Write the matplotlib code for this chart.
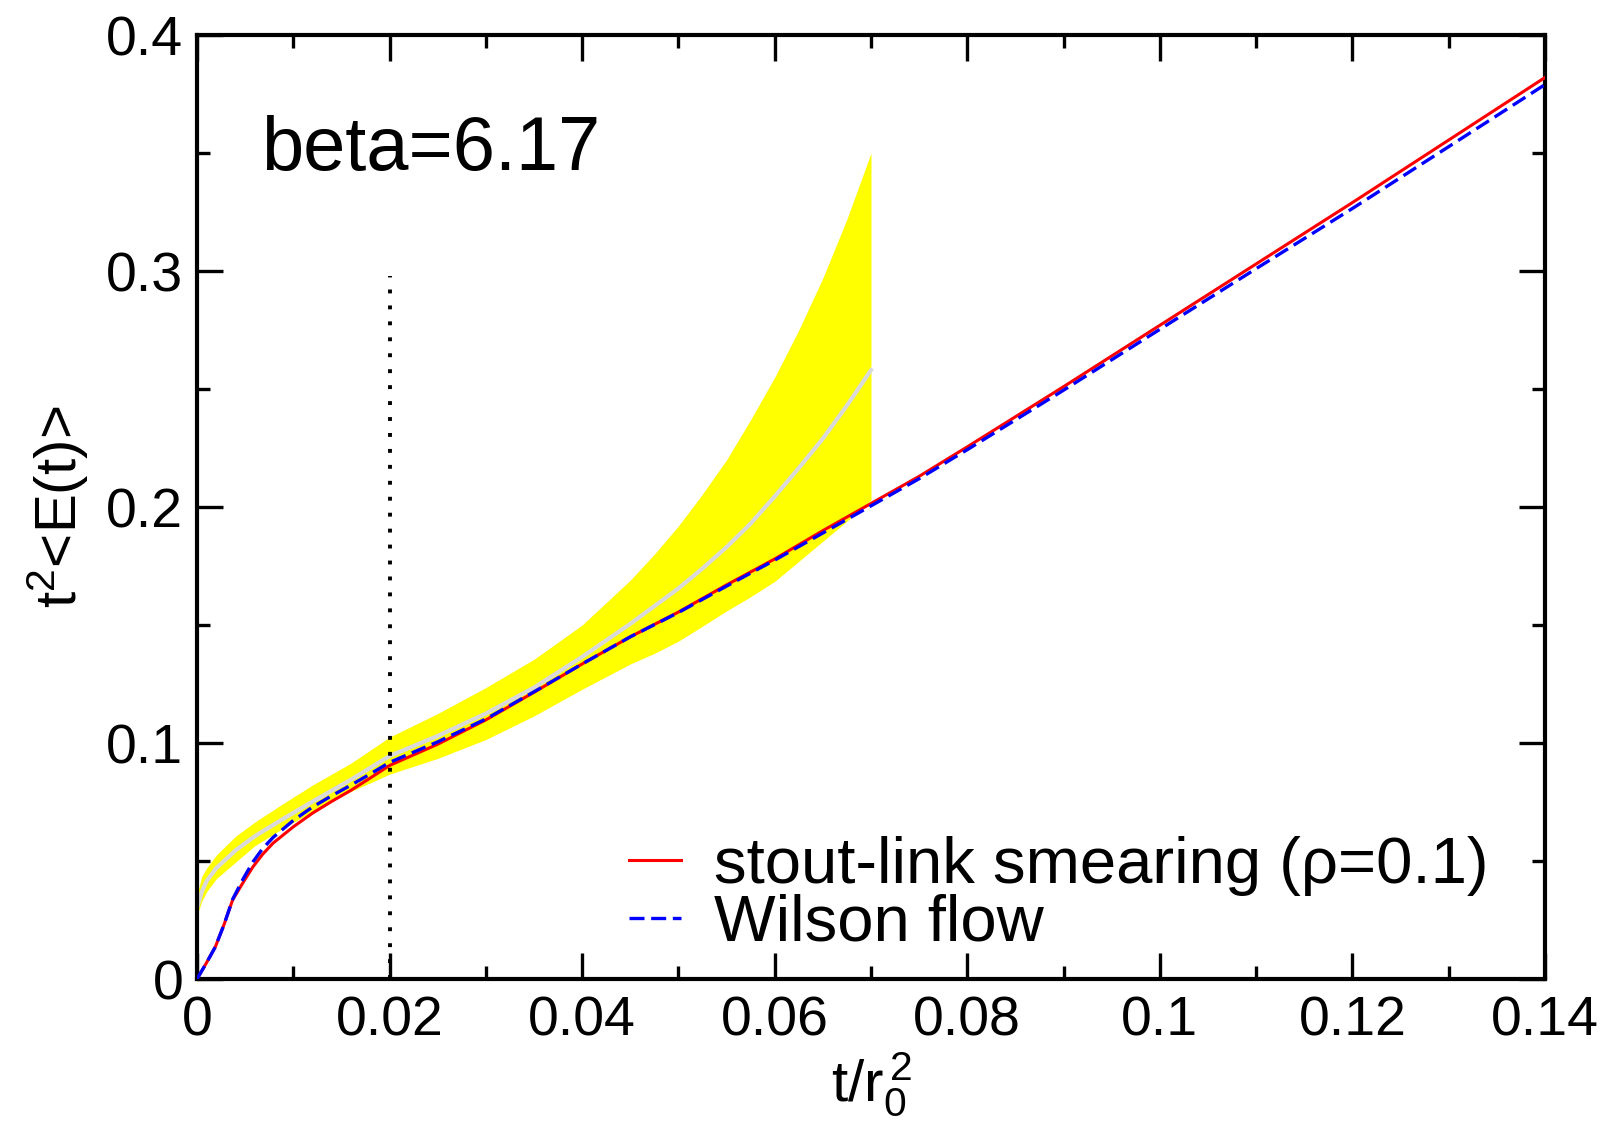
import matplotlib
matplotlib.use('Agg')
import matplotlib.pyplot as plt
from matplotlib.ticker import MultipleLocator, FuncFormatter

plt.rcParams['font.family'] = ['Liberation Sans', 'DejaVu Sans']
plt.rcParams['mathtext.fontset'] = 'custom'
plt.rcParams['mathtext.rm'] = 'Liberation Sans'
plt.rcParams['mathtext.it'] = 'Liberation Sans:italic'

# yellow error band + grey central line (t/r0^2 up to 0.07)
band_x = [0, 0.0005, 0.001, 0.002, 0.004, 0.006, 0.009, 0.012, 0.016, 0.02,
          0.025, 0.03, 0.035, 0.04, 0.045, 0.0475, 0.05, 0.0525, 0.055, 0.0575,
          0.06, 0.0625, 0.065, 0.0675, 0.07]
band_hi = [0.036, 0.0435, 0.047, 0.0525, 0.0605, 0.0665, 0.0745, 0.0822, 0.0915, 0.1025,
           0.1125, 0.1235, 0.1355, 0.150, 0.169, 0.180, 0.192, 0.2055, 0.220, 0.237,
           0.255, 0.275, 0.297, 0.322, 0.350]
band_mid = [0.030, 0.037, 0.0415, 0.047, 0.0545, 0.0605, 0.068, 0.0752, 0.0845, 0.0945,
            0.103, 0.1125, 0.1235, 0.1365, 0.1505, 0.158, 0.1655, 0.174, 0.183, 0.193,
            0.2045, 0.2165, 0.229, 0.243, 0.258]
band_lo = [0.027, 0.033, 0.037, 0.0425, 0.0495, 0.0565, 0.064, 0.071, 0.0795, 0.0868,
           0.0935, 0.1015, 0.1115, 0.1228, 0.1335, 0.138, 0.1432, 0.1495, 0.156, 0.162,
           0.1685, 0.177, 0.1855, 0.194, 0.203]

# flow curves
t = [0, 0.001, 0.0019, 0.0028, 0.0037, 0.0048, 0.0058, 0.0068, 0.0079, 0.01, 0.012,
     0.014, 0.016, 0.018, 0.02, 0.025, 0.03, 0.035, 0.04, 0.045, 0.05, 0.055, 0.06,
     0.065, 0.07, 0.075, 0.08, 0.09, 0.1, 0.11, 0.12, 0.13, 0.14]
stout = [0, 0.007, 0.0136, 0.023, 0.0335, 0.041, 0.0475, 0.0528, 0.0576, 0.0645, 0.0703,
         0.0753, 0.0800, 0.0852, 0.0905, 0.0995, 0.1098, 0.1215, 0.1335, 0.145, 0.1555,
         0.167, 0.178, 0.190, 0.2015, 0.213, 0.2255, 0.251, 0.277, 0.303, 0.329, 0.3555, 0.382]
wilson = [0, 0.007, 0.0136, 0.023, 0.0338, 0.0425, 0.0496, 0.0552, 0.0600, 0.0672, 0.0729,
          0.0777, 0.0822, 0.0869, 0.0918, 0.1005, 0.1102, 0.1217, 0.1335, 0.145, 0.1553,
          0.1665, 0.1775, 0.189, 0.2005, 0.212, 0.2243, 0.2495, 0.2753, 0.301, 0.3265, 0.3527, 0.379]

fig = plt.figure(figsize=(16.07, 11.30), dpi=100)
ax = fig.add_axes([0.1226, 0.1336, 0.8388, 0.8354])

ax.fill_between(band_x, band_lo, band_hi, color='#ffff00', lw=0, zorder=1)
ax.plot(band_x, band_mid, color='#d9d9d9', lw=3, zorder=2)
ax.plot([0.02, 0.02], [0, 0.298], color='black', lw=2.8, ls=(0, (1, 3.1)), zorder=2)
ax.plot(t, stout, color='red', lw=2.2, label='stout-link smearing (ρ=0.1)', zorder=3)
ax.plot(t, wilson, color='blue', lw=2.4, dashes=(4.5, 2), label='Wilson flow', zorder=4)

ax.text(0.0067, 0.3428, 'beta=6.17', fontsize=54.5, ha='left', va='baseline')

ax.set_xlim(0, 0.14)
ax.set_ylim(0, 0.4)
ax.xaxis.set_major_locator(MultipleLocator(0.02))
ax.xaxis.set_minor_locator(MultipleLocator(0.01))
ax.yaxis.set_major_locator(MultipleLocator(0.1))
ax.yaxis.set_minor_locator(MultipleLocator(0.05))
fmt = FuncFormatter(lambda v, p: '%g' % round(v, 4))
ax.xaxis.set_major_formatter(fmt)
ax.yaxis.set_major_formatter(fmt)
ax.tick_params(which='both', direction='in', top=True, right=True, width=2.4)
ax.tick_params(which='major', length=19, labelsize=40)
ax.tick_params(which='minor', length=9.5)
ax.tick_params(axis='x', pad=12)
ax.tick_params(axis='y', pad=10)
for s in ax.spines.values():
    s.set_linewidth(3)

ax.set_xlabel(r'$\mathregular{t/r_0^{\,2}}$', fontsize=42)
ax.xaxis.set_label_coords(0.5, -0.075)
ax.set_ylabel(r'$\mathregular{t^{2}}$<E(t)>', fontsize=42)
ax.yaxis.set_label_coords(-0.079, 0.5)

ax.legend(loc='upper left', bbox_to_anchor=(0.3205, 0.152), frameon=False,
          fontsize=47, handlelength=0.8, handletextpad=0.5, labelspacing=-0.03,
          borderpad=0, borderaxespad=0)

fig.savefig('out.png', dpi=100)
